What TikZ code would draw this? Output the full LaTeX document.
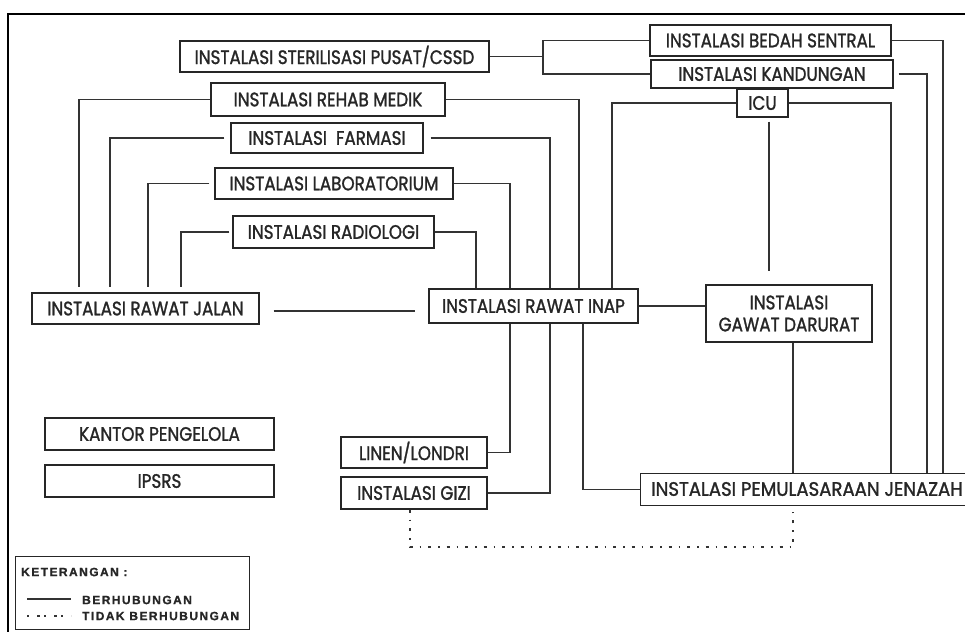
\documentclass[tikz,border=0pt]{standalone}
\usepackage{fontspec}
\setmainfont[FakeStretch=0.86,FakeBold=1.3]{Poppins}
\newfontfamily\legfont[LetterSpace=12,FakeBold=1]{Liberation Sans}
\usetikzlibrary{calc}
\pgfdeclarelayer{bg}
\pgfsetlayers{bg,main}
\begin{document}
\begin{tikzpicture}[x=1pt,y=-1pt,
  box/.style={draw=black!85,line width=1.3pt,fill=white,inner sep=0pt,
    font=\fontsize{19.5}{22}\selectfont,text=black!85},
  sz/.style 2 args={minimum width=#1pt,minimum height=#2pt},
  link/.style={draw=black!80,line width=1.2pt},
  notlink/.style={draw=black!80,line width=1.4pt,dash pattern=on 3pt off 7pt on 1.5pt off 7pt},
  legtext/.style={anchor=west,inner sep=0pt,text=black!85,font=\legfont\bfseries\fontsize{12}{12}\selectfont}]
\useasboundingbox (0,0) rectangle (965,631);
\draw[line width=1.6pt] (8,14) rectangle (990,660);

% boxes
\node[box,sz={309}{31}] (ster) at (334.5,56.5) {INSTALASI STERILISASI PUSAT/CSSD};
\node[box,sz={234}{33}] (rehab) at (328,99.5) {INSTALASI REHAB MEDIK};
\node[box,sz={192}{30}] (farm) at (327,138) {INSTALASI\ \ FARMASI};
\node[box,sz={238}{31}] (lab) at (334,183.5) {INSTALASI LABORATORIUM};
\node[box,sz={201}{32}] (rad) at (333.5,232) {INSTALASI RADIOLOGI};
\node[box,sz={227}{31}] (jalan) at (145.5,308.5) {INSTALASI RAWAT JALAN};
\node[box,sz={209}{34}] (inap) at (533.5,306) {INSTALASI RAWAT INAP};
\node[box,sz={166}{57},align=center] (gawat) at (789,313.5) {INSTALASI\\GAWAT DARURAT};
\node[box,sz={241}{31}] (bedah) at (770.5,40.5) {INSTALASI BEDAH SENTRAL};
\node[box,sz={242}{28}] (kand) at (772,74) {INSTALASI KANDUNGAN};
\node[box,sz={51}{28}] (icu) at (762.5,103) {ICU};
\node[box,sz={229}{32}] (kantor) at (159.5,434) {KANTOR PENGELOLA};
\node[box,sz={229}{32}] (ipsrs) at (159.5,481) {IPSRS};
\node[box,sz={146}{31}] (linen) at (414,452.5) {LINEN/LONDRI};
\node[box,sz={146}{32}] (gizi) at (414,493) {INSTALASI GIZI};
\node[box,sz={335}{32},anchor=north west] (pemu) at (640,473) {};
\node[anchor=west,inner sep=0pt,font=\fontsize{19.5}{22}\selectfont,text=black!85] (pemutext) at (651,489) {\scalebox{1.08}[1]{INSTALASI PEMULASARAAN JENAZAH}};

% connector columns
\coordinate (xbr) at (543,0);
\coordinate (xbed) at (943,0);
\coordinate (xkan) at (927,0);
\coordinate (xicl) at (612,0);
\coordinate (xicr) at (891,0);
\coordinate (xicd) at (769,0);
\coordinate (xreh) at (579,0);
\coordinate (xfar) at (550,0);
\coordinate (xlab) at (510,0);
\coordinate (xrad) at (476,0);
\coordinate (xj1) at (79,0);
\coordinate (xj2) at (110,0);
\coordinate (xj3) at (148,0);
\coordinate (xj4) at (181,0);
\coordinate (xinp) at (583,0);
\coordinate (xgaw) at (793,0);
\coordinate (dl) at (410,547);
\coordinate (dr) at (793,547);

\begin{pgfonlayer}{bg}
\draw[link] (ster.east) -- (ster.east -| xbr);
\draw[link] (bedah.west) -| (xbr |- kand.west) -- (kand.west);
\draw[link] (bedah.east) -| (xbed |- pemu.north);
\draw[link] ($(kand.east)+(5,0)$) -| (xkan |- pemu.north);
\draw[link] (icu.west) -| (xicl |- inap.north);
\draw[link] (icu.east) -| (xicr |- pemu.north);
\draw[link] ($(xicd |- icu.south)+(0,4)$) -- ($(xicd |- gawat.north)+(0,-13)$);
\draw[link] (rehab.east) -| (xreh |- inap.north);
\draw[link] (rehab.west) -| ($(xj1 |- jalan.north)+(0,-5)$);
\draw[link] ($(farm.west)+(-6,0)$) -| ($(xj2 |- jalan.north)+(0,-5)$);
\draw[link] ($(farm.east)+(7,0)$) -| (xfar |- gizi.east) -- (gizi.east);
\draw[link] ($(lab.west)+(-5,0)$) -| ($(xj3 |- jalan.north)+(0,-5)$);
\draw[link] (lab.east) -| (xlab |- linen.east) -- (linen.east);
\draw[link] ($(rad.west)+(-3,0)$) -| ($(xj4 |- jalan.north)+(0,-5)$);
\draw[link] (rad.east) -| (xrad |- inap.north);
\draw[link] ($(jalan.east)+(14,2.5)$) -- ($(jalan.east -| inap.west)+(-13,2.5)$);
\draw[link] (inap.east) -- (inap.east -| gawat.west);
\draw[link] (xinp |- inap.south) |- (pemu.west);
\draw[link] (xgaw |- gawat.south) -- (xgaw |- pemu.north);
\draw[notlink] (dl |- gizi.south) -- (dl) -- (dr) -- (dr |- pemu.south);
\end{pgfonlayer}

% legend
\node[draw=black!85,line width=1.3pt,sz={234}{73},anchor=north west,inner sep=0pt] (leg) at (15,556) {};
\node[legtext] (ket) at (21,572) {KETERANGAN :};
\coordinate (l1a) at (27,599);
\coordinate (l1b) at (71,599);
\coordinate (l2a) at (27,616);
\coordinate (l2b) at (71,616);
\draw[link] (l1a) -- (l1b);
\draw[notlink,line width=1.2pt,dash pattern=on 2pt off 8pt on 3pt off 4pt] (l2a) -- (l2b);
\node[legtext] (berh) at (82,600) {BERHUBUNGAN};
\node[legtext] (tidak) at (82,616) {TIDAK BERHUBUNGAN};
\end{tikzpicture}
\end{document}
